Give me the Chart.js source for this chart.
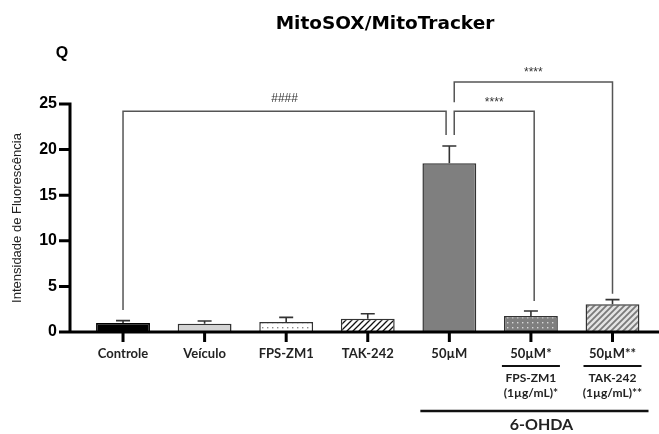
<!DOCTYPE html>
<html>
<head>
<meta charset="utf-8">
<script src="https://cdn.jsdelivr.net/npm/chart.js@4.4.0/dist/chart.umd.min.js"></script>
<style>
  html, body { margin: 0; padding: 0; background: #fff; }
  #wrap { width: 659px; height: 434px; }
</style>
</head>
<body>
<div id="wrap"><canvas id="c" width="659" height="434"></canvas></div>
<script>
// values
var labels = ['Controle', 'Veículo', 'FPS-ZM1', 'TAK-242', '50µM', '50µM*', '50µM**'];
var means = [1.0, 0.9, 1.1, 1.45, 18.5, 1.75, 3.05];
var sem = [0.25, 0.3, 0.5, 0.55, 1.9, 0.55, 0.5];
var yTicks = [0, 5, 10, 15, 20, 25];

// second row under the last two groups
var subIndex = [5, 6];
var subLine1 = ['FPS-ZM1', 'TAK-242'];
var subLine2 = ['(1µg/mL)*', '(1µg/mL)**'];
var groupLabel = '6-OHDA';

// significance brackets (x in category index, y in data units)
var sigFrom = [0, 4.06, 4.06];
var sigTo = [3.96, 5.04, 6];
var sigLevel = [24.2, 24.2, 27.4];
var sigFromEnd = [2.4, 21.6, 25.2];
var sigToEnd = [21.6, 3.4, 4.2];
var sigText = ['####', '****', '****'];

var canvas = document.getElementById('c');
var ctx = canvas.getContext('2d');

function makePattern(bg, w, h, draw) {
  var pc = document.createElement('canvas');
  pc.width = w; pc.height = h;
  var g = pc.getContext('2d');
  g.fillStyle = bg;
  g.fillRect(0, 0, w, h);
  draw(g);
  return ctx.createPattern(pc, 'repeat');
}
function hatch(color, width) {
  return function (g) {
    g.strokeStyle = color;
    g.lineWidth = width;
    g.beginPath();
    g.moveTo(-1, 7); g.lineTo(7, -1);
    g.moveTo(-1, 1); g.lineTo(1, -1);
    g.moveTo(5, 7); g.lineTo(7, 5);
    g.stroke();
  };
}
function dots(color) {
  return function (g) {
    g.fillStyle = color;
    g.fillRect(2, 2, 1.4, 1.4);
  };
}

var fills = [
  '#000000',
  '#d4d4d4',
  makePattern('#ffffff', 5, 5, dots('#8a8a8a')),
  makePattern('#ffffff', 6, 6, hatch('#111111', 1.3)),
  '#7f7f7f',
  makePattern('#7f7f7f', 5, 5, dots('#d8d8d8')),
  makePattern('#e4e4e4', 6, 6, hatch('#7a7a7a', 1.8))
];

// axis lines and tick marks, placed from the scales
var axes = {
  id: 'axes',
  afterDatasetsDraw: function (chart) {
    var x = chart.scales.x, y = chart.scales.y, c = chart.ctx;
    var left = chart.chartArea.left, right = chart.chartArea.right;
    var y0 = y.getPixelForValue(0);
    c.save();
    c.strokeStyle = '#000';
    c.lineWidth = 3;
    c.beginPath();
    c.moveTo(left, y.getPixelForValue(25) - 1.5);
    c.lineTo(left, y0);
    c.moveTo(left - 1.5, y0);
    c.lineTo(right, y0);
    y.ticks.forEach(function (t) {
      var py = y.getPixelForValue(t.value);
      c.moveTo(left - 11, py); c.lineTo(left, py);
    });
    x.ticks.forEach(function (t) {
      var px = x.getPixelForValue(t.value);
      c.moveTo(px, y0); c.lineTo(px, y0 + 10);
    });
    c.stroke();
    c.restore();
  }
};

var errorBars = {
  id: 'errorBars',
  afterDatasetsDraw: function (chart) {
    var x = chart.scales.x, y = chart.scales.y, c = chart.ctx;
    c.save();
    c.strokeStyle = '#333';
    c.lineWidth = 1.6;
    means.forEach(function (m, i) {
      var px = x.getPixelForValue(i);
      var top = y.getPixelForValue(m + sem[i]);
      var base = y.getPixelForValue(m);
      c.beginPath();
      c.moveTo(px, base); c.lineTo(px, top);
      c.moveTo(px - 7, top); c.lineTo(px + 7, top);
      c.stroke();
    });
    c.restore();
  }
};

var annotations = {
  id: 'annotations',
  afterDraw: function (chart) {
    var x = chart.scales.x, y = chart.scales.y, c = chart.ctx;
    c.save();

    // title, width-fitted heavy sans
    c.fillStyle = '#000';
    c.textAlign = 'center';
    c.textBaseline = 'alphabetic';
    var size = 17;
    c.font = 'bold ' + size + 'px "DejaVu Sans"';
    var w = c.measureText('MitoSOX/MitoTracker').width;
    size = size * 219 / w;
    c.font = 'bold ' + size.toFixed(1) + 'px "DejaVu Sans"';
    c.fillText('MitoSOX/MitoTracker', 385, 29);

    c.font = 'bold 16px "Liberation Sans"';
    c.fillText('Q', 62, 58);

    // brackets
    c.strokeStyle = '#555';
    c.lineWidth = 1.5;
    sigText.forEach(function (t, i) {
      var x1 = x.getPixelForValue(sigFrom[i]);
      var x2 = x.getPixelForValue(sigTo[i]);
      var yl = y.getPixelForValue(sigLevel[i]);
      c.beginPath();
      c.moveTo(x1, y.getPixelForValue(sigFromEnd[i]));
      c.lineTo(x1, yl);
      c.lineTo(x2, yl);
      c.lineTo(x2, y.getPixelForValue(sigToEnd[i]));
      c.stroke();
      c.fillStyle = '#333';
      c.font = '12px "Liberation Sans"';
      c.textBaseline = 'middle';
      c.fillText(t, (x1 + x2) / 2, yl - (t[0] === '#' ? 13 : 9));
    });

    // sub labels under the treated groups
    c.fillStyle = '#222';
    c.strokeStyle = '#111';
    c.lineWidth = 2;
    subIndex.forEach(function (idx, k) {
      var px = x.getPixelForValue(idx);
      c.beginPath();
      c.moveTo(px - 29, 366); c.lineTo(px + 29, 366);
      c.stroke();
      c.font = 'bold 12px Lato';
      c.textBaseline = 'middle';
      c.fillText(subLine1[k], px, 378);
      c.fillText(subLine2[k], px, 393);
    });

    var gx1 = x.getPixelForValue(4) - 29;
    var gx2 = x.getPixelForValue(6) + 36;
    c.lineWidth = 2.5;
    c.beginPath();
    c.moveTo(gx1, 411); c.lineTo(gx2, 411);
    c.stroke();
    c.font = 'bold 16px Lato';
    c.fillText(groupLabel, (gx1 + gx2) / 2 + 7, 425);

    c.restore();
  }
};

new Chart(ctx, {
  type: 'bar',
  data: {
    datasets: [{
      data: means.map(function (v, i) { return { x: i, y: v }; }),
      backgroundColor: fills,
      borderColor: ['#000', '#333', '#333', '#333', '#333', '#333', '#333'],
      borderWidth: 1.5,
      barPercentage: 0.66,
      categoryPercentage: 1
    }]
  },
  options: {
    responsive: false,
    animation: false,
    layout: { padding: { top: 104, left: 0, right: 0, bottom: 0 } },
    plugins: { legend: { display: false }, tooltip: { enabled: false } },
    scales: {
      x: {
        type: 'linear',
        min: -0.65,
        max: 6.57,
        offset: false,
        afterFit: function (s) {
          s.height = 102;
          s.paddingLeft = 0; s.paddingRight = 0;
        },
        afterBuildTicks: function (s) {
          s.ticks = labels.map(function (l, i) { return { value: i }; });
        },
        grid: { display: true, offset: false, drawOnChartArea: false, drawTicks: true, tickLength: 10, tickColor: 'rgba(0,0,0,0)', lineWidth: 0 },
        border: { display: false },
        ticks: {
          autoSkip: false,
          maxRotation: 0,
          padding: 4,
          color: '#222',
          font: { family: 'Lato', weight: 'bold', size: 13 },
          callback: function (v) { return labels[v]; }
        }
      },
      y: {
        min: 0,
        max: 25,
        afterFit: function (s) {
          s.width = 70;
          s.paddingTop = 0; s.paddingBottom = 0;
        },
        afterBuildTicks: function (s) {
          s.ticks = yTicks.map(function (v) { return { value: v }; });
        },
        grid: { display: true, drawOnChartArea: false, drawTicks: true, tickLength: 11, tickColor: 'rgba(0,0,0,0)', lineWidth: 0 },
        border: { display: false },
        ticks: {
          padding: 2,
          color: '#000',
          font: { family: 'Liberation Sans', weight: 'bold', size: 16 }
        },
        title: {
          display: true,
          text: 'Intensidade de Fluorescência',
          color: '#222',
          padding: { top: 10, bottom: 0 },
          font: { family: 'Liberation Sans', size: 13 }
        }
      }
    }
  },
  plugins: [axes, errorBars, annotations]
});
</script>
</body>
</html>
